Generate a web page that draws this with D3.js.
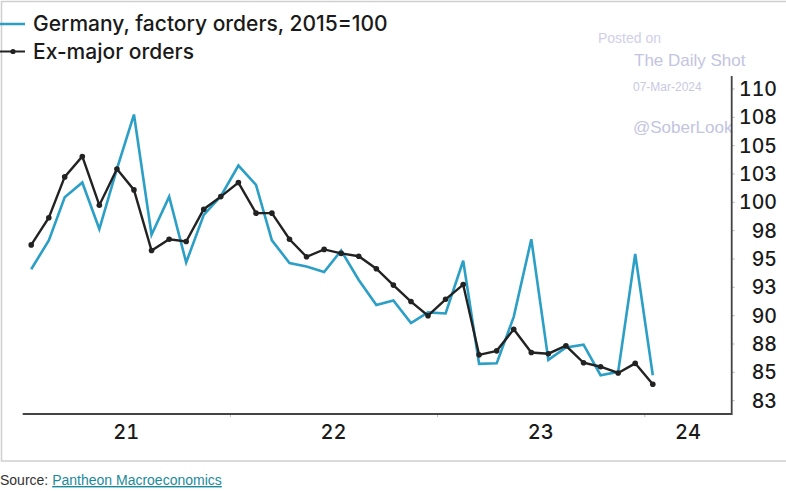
<!DOCTYPE html>
<html>
<head>
<meta charset="utf-8">
<script src="https://cdn.jsdelivr.net/npm/d3@7"></script>
<style>
  html, body { margin: 0; padding: 0; background: #fff; }
  svg { display: block; }
</style>
</head>
<body>
<svg id="chart" width="786" height="491"></svg>
<script>
// ---- Data (monthly, Jan 2021 – Jan 2024) ----
const startYear = 2021;
const factoryOrders = [94.05, 96.6, 100.4, 101.7, 97.6, 102.9, 107.7, 97.1, 100.45, 94.65, 98.85, 100.5,
  103.2, 101.5, 96.6, 94.6, 94.3, 93.8, 95.7, 93.1, 90.9, 91.3, 89.3, 90.25,
  90.15, 94.8, 85.7, 85.75, 89.85, 96.7, 86.05, 87.15, 87.4, 84.7, 85.0, 95.4,
  84.7];
const exMajorOrders = [96.2, 98.6, 102.2, 104.0, 99.7, 102.9, 101.05, 95.7, 96.7, 96.5, 99.35, 100.46,
  101.7, 99.0, 99.0, 96.7, 95.15, 95.8, 95.45, 95.2, 94.1, 92.65, 91.2, 89.95,
  91.4, 92.7, 86.5, 86.85, 88.75, 86.7, 86.6, 87.3, 85.8, 85.45, 84.9, 85.75,
  83.9];
const yTickValues = [82.5, 85, 87.5, 90, 92.5, 95, 97.5, 100, 102.5, 105, 107.5, 110];
const yTickLabels = ["83", "85", "88", "90", "93", "95", "98", "100", "103", "105", "108", "110"];
const xYears = [2021, 2022, 2023, 2024];
const xTickLabels = ["21", "22", "23", "24"];
const seriesNames = ["Germany, factory orders, 2015=100", "Ex-major orders"];
const watermark = ["Posted on", "The Daily Shot", "07-Mar-2024", "@SoberLook"];

(function () {
// ---- Layout ----
const svg = d3.select("#chart");
const pLeft = 22.7, pRight = 731.7, pTop = 76, pBottom = 414;
const blue = "#2b9fc6", black = "#222222";

const x = d3.scaleTime()
  .domain([new Date(2021, 0, 1), new Date(2024, 5, 3)])
  .range([pLeft, pRight]);
const y = d3.scaleLinear().domain([81.28, 111.1]).range([pBottom, pTop]);

const dates = factoryOrders.map((_, i) => new Date(startYear, i, 16));

// outer frame
svg.append("path")
  .attr("d", `M790,1.5 H1.5 V461 H790`)
  .attr("fill", "none").attr("stroke", "#cfcfcf").attr("stroke-width", 1.5);

// watermark
const wm = svg.append("g").attr("font-family", "'Liberation Sans', Arial, sans-serif");
wm.append("text").attr("x", 598).attr("y", 43).attr("font-size", 14).attr("fill", "#cfd0e8").text(watermark[0]);
wm.append("text").attr("x", 634).attr("y", 66).attr("font-size", 17).attr("fill", "#c3c4e0").text(watermark[1]);
wm.append("text").attr("x", 633).attr("y", 91).attr("font-size", 12).attr("fill", "#c8c9e2").text(watermark[2]);
wm.append("text").attr("x", 633).attr("y", 133).attr("font-size", 17).attr("fill", "#c3c4e0").text(watermark[3]);

// y axis (right)
const yAxis = d3.axisRight(y).tickValues(yTickValues)
  .tickFormat((d, i) => yTickLabels[i]).tickSize(3).tickPadding(0);
const gy = svg.append("g").attr("transform", `translate(${pRight},0)`).call(yAxis);
gy.select(".domain").remove();
gy.selectAll(".tick line").attr("stroke", "#bbb").attr("stroke-width", 1);
gy.selectAll(".tick text")
  .attr("x", 777 - pRight).attr("text-anchor", "end").attr("dy", "0.36em")
  .attr("font-family", "Inter, 'Open Sans', sans-serif").attr("font-weight", 500)
  .attr("font-size", 19.5).attr("fill", "#1a1a1a")
  .style("font-variant-numeric", "tabular-nums");

// x axis (bottom) - year boundary ticks
const yearStarts = xYears.slice(1).map(yr => new Date(yr, 0, 1));
const gx = svg.append("g").attr("transform", `translate(0,${pBottom})`)
  .call(d3.axisBottom(x).tickValues(yearStarts).tickFormat("").tickSize(3));
gx.select(".domain").remove();
gx.selectAll(".tick line").attr("stroke", "#bbb");

// x labels centred in each visible year span
const xLab = svg.append("g");
xYears.forEach((yr, i) => {
  const a = Math.max(x(new Date(yr, 0, 1)), pLeft);
  const b = Math.min(x(new Date(yr + 1, 0, 1)), pRight);
  xLab.append("text").attr("x", (a + b) / 2).attr("y", 439)
    .attr("text-anchor", "middle")
    .attr("font-family", "Inter, 'Open Sans', sans-serif").attr("font-weight", 500)
    .attr("font-size", 20).attr("fill", "#1a1a1a")
    .style("font-variant-numeric", "tabular-nums")
    .text(xTickLabels[i]);
});

// axis lines
svg.append("path")
  .attr("d", `M${pLeft},${pBottom} H${pRight} V${pTop}`)
  .attr("fill", "none").attr("stroke", "#444").attr("stroke-width", 1.8);

// lines
const line = d3.line().x((d, i) => x(dates[i])).y(d => y(d));
svg.append("path").datum(factoryOrders).attr("d", line)
  .attr("fill", "none").attr("stroke", blue).attr("stroke-width", 2.6);
svg.append("path").datum(exMajorOrders).attr("d", line)
  .attr("fill", "none").attr("stroke", black).attr("stroke-width", 2.4);
svg.append("g").selectAll("circle").data(exMajorOrders).join("circle")
  .attr("cx", (d, i) => x(dates[i])).attr("cy", d => y(d)).attr("r", 2.8).attr("fill", black);

// legend
const lg = svg.append("g").attr("font-family", "Inter, 'Open Sans', sans-serif")
  .attr("font-weight", 500).attr("font-size", 21).attr("fill", "#1a1a1a");
lg.append("line").attr("x1", 0).attr("x2", 25).attr("y1", 24).attr("y2", 24)
  .attr("stroke", blue).attr("stroke-width", 2.5);
lg.append("text").attr("x", 33).attr("y", 30.5).text(seriesNames[0]);
lg.append("line").attr("x1", 0).attr("x2", 25).attr("y1", 51.5).attr("y2", 51.5)
  .attr("stroke", black).attr("stroke-width", 2);
lg.append("circle").attr("cx", 13).attr("cy", 51.5).attr("r", 2.6).attr("fill", black);
lg.append("text").attr("x", 33).attr("y", 58.5).text(seriesNames[1]);

// source
const src = svg.append("text").attr("x", 0).attr("y", 485)
  .attr("font-family", "'Liberation Sans', Arial, sans-serif").attr("font-size", 14);
src.append("tspan").attr("fill", "#333").text("Source: ");
src.append("tspan").attr("fill", "#1b8a9c").attr("text-decoration", "underline").text("Pantheon Macroeconomics");
})();
</script>
</body>
</html>
